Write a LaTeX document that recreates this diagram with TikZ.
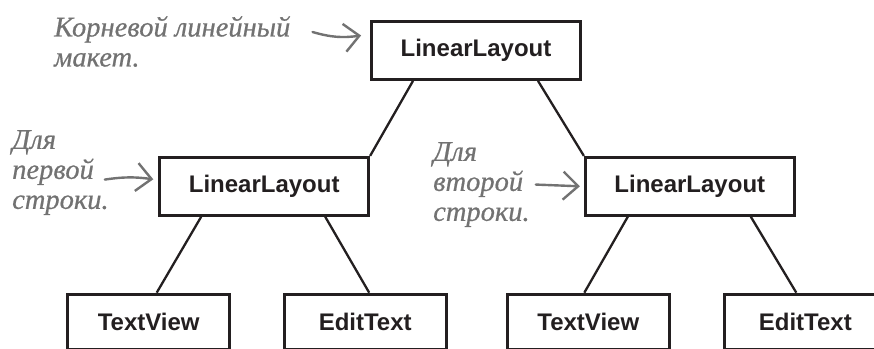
\documentclass[tikz,border=0pt]{standalone}
\usepackage{fontspec}
\setmainfont{Liberation Sans}
\newfontfamily\notefont{Liberation Serif Italic}[FakeBold=0.6]
\usetikzlibrary{arrows.meta, positioning}
\definecolor{inkblack}{HTML}{231F20}
\definecolor{notegray}{HTML}{727272}
\tikzset{
    base/.style = {
        draw=inkblack, line width=2.8pt, text=inkblack, inner sep=0pt,
        font=\fontsize{24}{28}\selectfont\bfseries
    },
    % Boxes
    layout/.style = {base, rectangle, minimum width=209pt, minimum height=58pt},
    widget/.style = {base, rectangle, minimum width=162pt, minimum height=55pt},
    % Edges and annotations
    link/.style = {draw=inkblack, line width=2.3pt},
    note/.style = {font=\notefont\fontsize{28.5}{30}\selectfont, text=notegray, align=left, inner sep=0pt, anchor=north west},
    pointer/.style = {draw=notegray, line width=2.4pt, line cap=round, -{Straight Barb[length=15pt, width=28pt, line width=2.4pt]}}
}

\begin{document}
\begin{tikzpicture}[x=1pt, y=-1pt]
    \useasboundingbox (0,0) rectangle (874,348);
    \clip (0,0) rectangle (874,348);

    % Root layout and the two rows
    \node (root) [layout] at (476,50.5) {LinearLayout};
    \node (row1) [layout, below left=75pt and 0pt of root] {LinearLayout};
    \node (row2) [layout, below right=75pt and 2pt of root] {LinearLayout};

    % Widgets in each row
    \node (text1) [widget, below=76pt of row1, xshift=-115.5pt] {TextView};
    \node (edit1) [widget, below=76pt of row1, xshift=101pt] {EditText};
    \node (text2) [widget, below=76pt of row2, xshift=-101.5pt] {TextView};
    \node (edit2) [widget, below=76pt of row2, xshift=115.5pt] {EditText};

    % Handwritten notes
    \node (rootnote) [note] at (54,16) {Корневой линейный\\макет.};
    \node (firstnote) [note] at (12,130) {Для\\первой\\строки.};
    \node (secondnote) [note] at (433,142) {Для\\второй\\строки.};

    % Tree lines
    \draw [link] ([xshift=-63pt]root.south) -- (row1.north east);
    \draw [link] ([xshift=62pt]root.south) -- (row2.north west);
    \draw [link] ([xshift=-63pt]row1.south) -- ([xshift=8pt]text1.north);
    \draw [link] ([xshift=61pt]row1.south) -- ([xshift=4pt]edit1.north);
    \draw [link] ([xshift=-62pt]row2.south) -- ([xshift=-4pt]text2.north);
    \draw [link] ([xshift=61pt]row2.south) -- ([xshift=-9pt]edit2.north);

    % Note pointers
    \draw [pointer] ([xshift=22pt, yshift=-16pt]rootnote.north east) to[bend right=12] ([xshift=-9pt, yshift=15pt]root.west);
    \draw [pointer] ([xshift=-4pt, yshift=-7pt]firstnote.east) to[bend left=8] ([xshift=-5pt, yshift=7pt]row1.west);
    \draw [pointer] ([xshift=6pt]secondnote.east) -- ([xshift=-4pt]row2.west);
\end{tikzpicture}
\end{document}
